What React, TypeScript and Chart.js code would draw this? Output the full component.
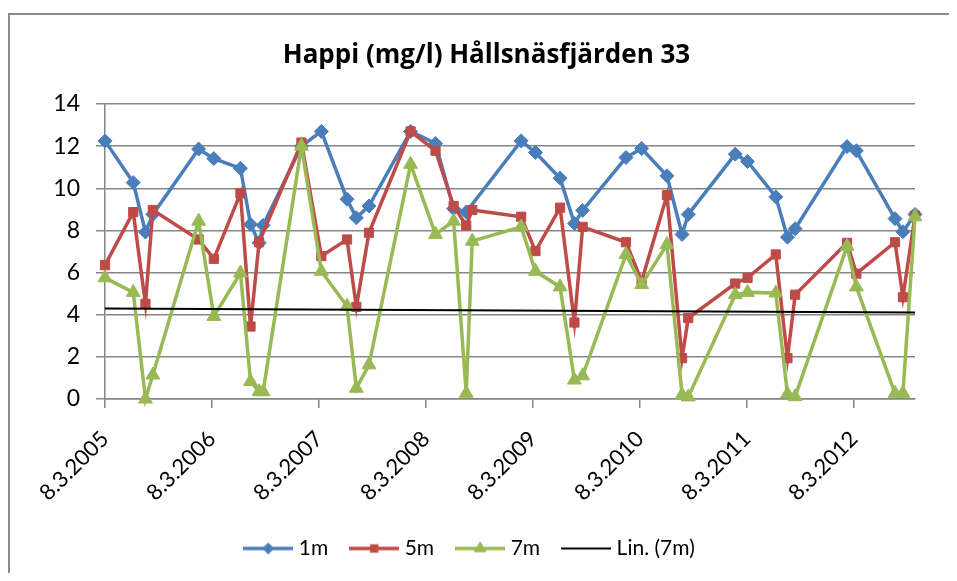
import React, { useEffect, useRef } from 'react';
import { Chart, registerables } from 'chart.js';

Chart.register(...registerables);

// Sampling dates as years after 8.3.2005
const sampleYears = [0, 0.264, 0.378, 0.447, 0.875, 1.017, 1.266, 1.36, 1.44, 1.478, 1.836, 2.022, 2.262, 2.349, 2.467, 2.856, 3.089, 3.258, 3.376, 3.432, 3.889, 4.023, 4.253, 4.387, 4.464, 4.869, 5.015, 5.252, 5.393, 5.451, 5.89, 6.005, 6.269, 6.378, 6.45, 6.935, 7.022, 7.383, 7.457, 7.57];

const series1m: (number | null)[] = [12.25, 10.27, 7.92, 8.76, 11.86, 11.41, 10.95, 8.29, 7.41, 8.24, 12.0, 12.7, 9.48, 8.6, 9.16, 12.7, 12.13, 9.03, 8.87, null, 12.25, 11.7, 10.48, 8.33, 8.95, 11.46, 11.89, 10.59, 7.81, 8.76, 11.62, 11.27, 9.59, 7.68, 8.08, 11.98, 11.78, 8.56, 7.94, 8.76];

const series5m: (number | null)[] = [6.35, 8.87, 4.52, 8.97, 7.57, 6.65, 9.76, 3.44, 7.44, null, 12.17, 6.78, 7.57, 4.37, 7.89, 12.7, 11.78, 9.16, 8.24, 8.97, 8.65, 7.02, 9.08, 3.63, 8.17, 7.44, 5.59, 9.67, 1.94, 3.84, 5.48, 5.75, 6.86, 1.94, 4.95, 7.41, 5.95, 7.44, 4.83, 8.7];

const series7m: (number | null)[] = [5.75, 5.06, 0.0, 1.14, 8.44, 3.92, 5.98, 0.83, 0.35, 0.35, 12.0, 6.06, 4.4, 0.51, 1.62, 11.14, 7.81, 8.44, 0.27, 7.49, 8.17, 6.06, 5.32, 0.9, 1.1, 6.86, 5.43, 7.33, 0.19, 0.1, 4.95, 5.06, 5.03, 0.24, 0.11, 7.25, 5.32, 0.27, 0.27, 8.65];

// Linear trend of 7m at first and last sampling date
const trend7m = [4.29, 4.11];

const yearTickLabels = ['8.3.2005', '8.3.2006', '8.3.2007', '8.3.2008', '8.3.2009', '8.3.2010', '8.3.2011', '8.3.2012'];
const seriesNames = ['1m', '5m', '7m', 'Lin. (7m)'];
const chartTitle = 'Happi (mg/l) Hållsnäsfjärden 33';

const BLUE = '#4A7EBB';
const RED = '#BE4B48';
const GREEN = '#98B954';
const GRID = '#868686';
const FONT = 'Lato';

function toPoints(values: (number | null)[]) {
  const pts: { x: number; y: number }[] = [];
  values.forEach((v, i) => {
    if (v !== null) pts.push({ x: sampleYears[i], y: v });
  });
  return pts;
}

function drawMarker(ctx: CanvasRenderingContext2D, style: string, x: number, y: number, r: number) {
  ctx.beginPath();
  if (style === 'rectRot') {
    ctx.moveTo(x, y - r);
    ctx.lineTo(x + r, y);
    ctx.lineTo(x, y + r);
    ctx.lineTo(x - r, y);
  } else if (style === 'rect') {
    const s = r * Math.SQRT1_2;
    ctx.rect(x - s, y - s, 2 * s, 2 * s);
  } else if (style === 'triangle') {
    ctx.moveTo(x, y - r);
    ctx.lineTo(x + r * Math.sin(Math.PI / 3), y + r / 2);
    ctx.lineTo(x - r * Math.sin(Math.PI / 3), y + r / 2);
  }
  ctx.closePath();
  ctx.fill();
}

function legendIcon(color: string, style: string | null, r: number, lw: number) {
  const c = document.createElement('canvas');
  c.width = 50;
  c.height = 20;
  const ctx = c.getContext('2d')!;
  ctx.strokeStyle = color;
  ctx.fillStyle = color;
  ctx.lineWidth = lw;
  ctx.beginPath();
  ctx.moveTo(0, 10);
  ctx.lineTo(50, 10);
  ctx.stroke();
  if (style) drawMarker(ctx, style, 25, 10, r);
  return c;
}

export default function App() {
  const canvasRef = useRef<HTMLCanvasElement | null>(null);

  useEffect(() => {
    if (!canvasRef.current) return;
    const icons = [
      legendIcon(BLUE, 'rectRot', 6, 3.5),
      legendIcon(RED, 'rect', 6, 3.5),
      legendIcon(GREEN, 'triangle', 7.5, 3.5),
      legendIcon('#000000', null, 0, 2),
    ];

    const shiftLegend = {
      id: 'shiftLegend',
      afterLayout(chart: any) {
        if (chart.legend) {
          chart.legend.left -= 15;
          chart.legend.right -= 15;
        }
      },
    };

    const chart = new Chart(canvasRef.current, {
      type: 'line',
      data: {
        datasets: [
          {
            label: seriesNames[0],
            data: toPoints(series1m),
            borderColor: BLUE,
            backgroundColor: BLUE,
            borderWidth: 3.5,
            pointStyle: 'rectRot',
            pointRadius: 7,
            pointBorderWidth: 1,
            pointBackgroundColor: BLUE,
            pointBorderColor: BLUE,
            clip: false,
            order: 4,
          },
          {
            label: seriesNames[1],
            data: toPoints(series5m),
            borderColor: RED,
            backgroundColor: RED,
            borderWidth: 3.5,
            pointStyle: 'rect',
            pointRadius: 6.5,
            pointBorderWidth: 1,
            pointBackgroundColor: RED,
            pointBorderColor: RED,
            clip: false,
            order: 3,
          },
          {
            label: seriesNames[2],
            data: toPoints(series7m),
            borderColor: GREEN,
            backgroundColor: GREEN,
            borderWidth: 3.5,
            pointStyle: 'triangle',
            pointRadius: 8,
            pointBorderWidth: 1,
            pointBackgroundColor: GREEN,
            pointBorderColor: GREEN,
            clip: false,
            order: 2,
          },
          {
            label: seriesNames[3],
            data: [
              { x: sampleYears[0], y: trend7m[0] },
              { x: sampleYears[sampleYears.length - 1], y: trend7m[1] },
            ],
            borderColor: '#000000',
            backgroundColor: '#000000',
            borderWidth: 2,
            pointRadius: 0,
            clip: false,
            order: 1,
          },
        ],
      },
      options: {
        animation: false,
        responsive: false,
        maintainAspectRatio: false,
        layout: { padding: { left: 8, right: 0, top: 0, bottom: 4 } },
        plugins: {
          tooltip: { enabled: false },
          title: {
            display: true,
            text: chartTitle,
            color: '#000000',
            font: { family: 'Open Sans', size: 26, weight: 'bold' },
            padding: { top: 31.6, bottom: 33.2 },
          },
          legend: {
            position: 'bottom',
            labels: {
              color: '#000000',
              font: { family: FONT, size: 21 },
              usePointStyle: true,
              pointStyleWidth: 40,
              padding: 26,
              sort: (a: any, b: any) => a.datasetIndex - b.datasetIndex,
              generateLabels: (ch: any) => {
                const items = (Chart.defaults.plugins.legend.labels as any).generateLabels(ch);
                items.forEach((it: any) => {
                  it.pointStyle = icons[it.datasetIndex];
                });
                return items;
              },
            },
          },
        },
        scales: {
          x: {
            type: 'linear',
            min: sampleYears[0],
            max: sampleYears[sampleYears.length - 1],
            afterFit: (s: any) => {
              s.height = 113;
            },
            ticks: {
              stepSize: 1,
              includeBounds: false,
              autoSkip: false,
              minRotation: 45,
              maxRotation: 45,
              color: '#000000',
              font: { family: FONT, size: 22 },
              padding: 18,
              callback: (v: any) => yearTickLabels[Math.round(Number(v))] ?? '',
            },
            grid: {
              display: true,
              drawOnChartArea: false,
              drawTicks: true,
              tickLength: 9,
              color: GRID,
              lineWidth: 1.5,
            },
            border: { display: true, color: GRID, width: 1.5 },
          },
          y: {
            type: 'linear',
            min: 0,
            max: 14,
            afterFit: (s: any) => {
              s.width = 89;
            },
            ticks: {
              stepSize: 2,
              color: '#000000',
              font: { family: FONT, size: 23 },
              padding: 16,
            },
            grid: {
              color: GRID,
              lineWidth: 1.5,
              tickLength: 9,
              drawTicks: true,
            },
            border: { display: true, color: GRID, width: 1.5 },
          },
          yR: {
            type: 'linear',
            position: 'right',
            min: 0,
            max: 1,
            afterFit: (s: any) => {
              s.width = 42;
            },
            ticks: { display: false },
            grid: { display: false },
            border: { display: false },
          },
        },
      },
      plugins: [shiftLegend],
    } as any);

    return () => chart.destroy();
  }, []);

  return (
    <div style={{ position: 'relative', width: 949, height: 565, overflow: 'hidden' }}>
      <div
        style={{
          position: 'absolute',
          left: 0,
          top: 5,
          width: 960,
          height: 600,
          borderLeft: '2px solid #8a8a8a',
          borderTop: '2px solid #8a8a8a',
          boxSizing: 'border-box',
        }}
      />
      <canvas ref={canvasRef} width={949} height={565} style={{ position: 'absolute', left: 0, top: 0, width: 949, height: 565 }} />
    </div>
  );
}
